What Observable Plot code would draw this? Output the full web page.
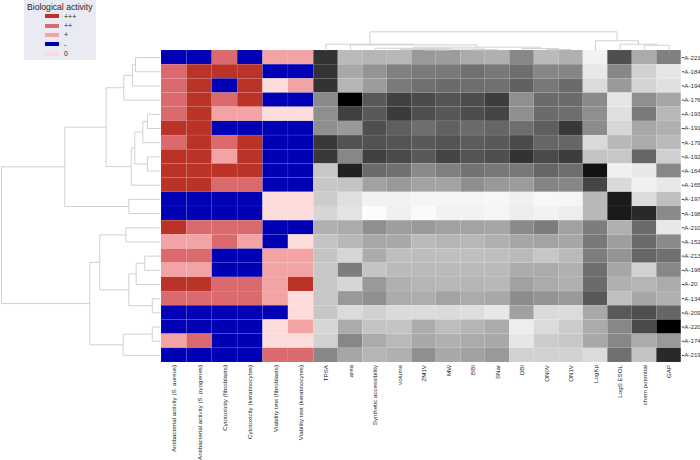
<!DOCTYPE html>
<html><head><meta charset="utf-8">
<script src="https://cdn.jsdelivr.net/npm/d3@7"></script>
<script src="https://cdn.jsdelivr.net/npm/@observablehq/plot@0.6"></script>
<style>
html,body{margin:0;padding:0;background:#fff;overflow:hidden;}
#wrap{position:relative;width:700px;height:460px;font-family:"Liberation Sans",Arial,sans-serif;}
#wrap svg{position:absolute;left:0;top:0;}
#legend{position:absolute;left:24px;top:0;width:72px;height:60px;background:#eaeaf2;color:#262626;}
#legend .title{position:absolute;left:3px;top:2px;font-size:8.6px;white-space:nowrap;}
#legend .sw{position:absolute;left:21px;width:14px;height:4px;}
#legend .lb{position:absolute;left:40px;font-size:7px;line-height:7px;}
</style></head><body><div id="wrap"><div id="legend"></div></div>
<script>
const rows = ["A-221","A-184","A-194","A-176","A-193","A-191","A-179","A-192","A-164","A-165","A-197","A-198","A-210","A-152","A-213","A-196","A-20","A-134","A-209","A-220","A-174","A-219"];
const bioCols = ["Antibacterial activity (S. aureus)","Antibacterial activity (S. pyogenes)","Cytotoxicity (fibroblasts)","Cytotoxicity (keratinocytes)","Viability test (fibroblasts)","Viability test (keratinocytes)"];
const descCols = ["TPSA","area","Synthetic accessibility","volume","ZM1V","MW","BBI","SNar","DBI","ON0V","ON1V","LogKp","LogS ESOL","chem potential","GAP"];
const levels = ["+++","++","+","-","0"];
const levelColors = ["#bb3228","#da6a6e","#f3a3a3","#0000b4","#fddcdc"];

// biological activity per row (same order as columns in bioCols)
const bio = [
  ["-","-","++","-","+","+"],
  ["++","+++","+++","+++","-","-"],
  ["++","+++","-","+++","0","+"],
  ["++","+++","++","+++","-","-"],
  ["++","+++","+","+","0","0"],
  ["+++","+++","-","-","-","-"],
  ["++","+++","++","+++","-","-"],
  ["+++","+++","+","+++","-","-"],
  ["+++","+++","+++","+++","-","-"],
  ["+++","+++","++","++","-","-"],
  ["-","-","-","-","0","0"],
  ["-","-","-","-","0","0"],
  ["+++","++","++","++","-","-"],
  ["+","+","++","+","-","0"],
  ["++","++","-","-","+","+"],
  ["+","+","-","-","+","+"],
  ["+++","+++","++","++","+","+++"],
  ["++","++","++","++","+","0"],
  ["-","-","-","-","-","0"],
  ["-","-","-","-","0","+"],
  ["+","++","-","-","0","0"],
  ["-","-","-","-","++","++"]
];

// scaled descriptor values (0 = lowest, 100 = highest), per row
const desc = [
  [80,27,29,28,40,39,33,31,47,27,31,5,69,33,50],
  [80,34,42,50,52,53,56,53,57,47,48,9,47,18,10],
  [80,29,39,52,56,58,57,56,62,53,58,14,40,17,12],
  [46,100,65,75,71,67,70,76,44,58,58,46,10,44,35],
  [44,75,65,77,69,66,70,73,44,58,57,44,12,52,28],
  [44,40,69,63,57,62,58,60,57,63,78,45,16,34,31],
  [78,68,68,67,65,67,64,65,71,60,60,15,28,33,27],
  [78,47,75,71,65,73,67,69,80,71,76,23,22,60,19],
  [22,87,58,56,46,50,55,53,53,60,57,93,6,9,47],
  [22,23,37,40,36,36,44,40,39,48,47,73,15,6,9],
  [20,12,5,5,4,4,4,3,6,3,4,28,90,14,25],
  [16,11,1,6,2,5,5,4,7,5,7,28,90,84,46],
  [31,33,44,38,40,37,36,35,46,51,37,51,31,58,9],
  [23,28,34,34,27,29,28,31,35,36,35,53,38,58,46],
  [23,16,33,25,26,25,25,25,27,22,27,51,42,60,56],
  [22,51,23,27,27,27,27,27,33,33,31,57,35,18,47],
  [22,16,40,31,29,28,29,28,37,33,31,58,31,29,33],
  [22,40,44,33,32,36,33,34,45,42,40,65,25,35,31],
  [22,14,18,14,14,14,13,9,37,14,14,34,65,69,60],
  [16,33,23,23,33,26,29,33,7,14,20,33,47,71,100],
  [18,47,33,27,34,31,33,34,10,20,22,34,47,33,40],
  [47,35,29,31,44,34,37,40,18,18,18,14,56,23,84]
];

// row linkage: [child A, child B, distance]; leaves 0..21 in displayed order, merges numbered from 22
const rowLinkage = [
  [1,2,0.052],[0,22,0.235],[3,4,0.052],[6,7,0.099],[5,25,0.153],[24,26,0.199],
  [8,9,0.218],[27,28,0.382],[23,29,0.445],[10,11,0.199],[13,14,0.082],[16,17,0.082],
  [15,33,0.111],[32,34,0.162],[12,35,0.184],[20,21,0.157],[19,37,0.176],[18,38,0.231],
  [36,39,0.342],[31,40,0.602],[30,41,1.0]
];
// column linkage over descCols; leaves 0..14, merges numbered from 15
const colLinkage = [
  [9,10,0.05],[8,15,0.1],[4,5,0.03],[3,17,0.06],[6,7,0.04],[18,19,0.08],
  [2,20,0.12],[21,16,0.18],[1,22,0.3],[0,23,0.337],[13,14,0.28],[12,25,0.337],
  [11,26,0.52],[24,27,1.0]
];

function dendroSegments(linkage, n) {
  const pos = [], ht = [];
  for (let i = 0; i < n; i++) { pos[i] = i + 0.5; ht[i] = 0; }
  const segs = [];
  linkage.forEach(([a, b, h], k) => {
    const id = n + k;
    pos[id] = (pos[a] + pos[b]) / 2; ht[id] = h;
    segs.push({p1: pos[a], h1: ht[a], p2: pos[a], h2: h});
    segs.push({p1: pos[a], h1: h, p2: pos[b], h2: h});
    segs.push({p1: pos[b], h1: h, p2: pos[b], h2: ht[b]});
  });
  return segs;
}

const W = 700, H = 460;
const top0 = 50, bottom0 = 362;
const wrap = document.getElementById("wrap");
const font = {fontFamily: '"Liberation Sans", Arial, sans-serif', background: "transparent", color: "#262626", overflow: "visible"};

const bioData = rows.flatMap((r, i) => bioCols.map((c, j) => ({row: r, col: c, level: bio[i][j]})));
const descData = rows.flatMap((r, i) => descCols.map((c, j) => ({row: r, col: c, value: desc[i][j]})));

wrap.appendChild(Plot.plot({
  width: W, height: H,
  marginLeft: 161, marginRight: W - 313.3, marginTop: top0, marginBottom: H - bottom0,
  style: {...font, fontSize: "6.2px"},
  x: {domain: bioCols, padding: 0, round: false, axis: "bottom", tickRotate: -90, tickSize: 0, tickPadding: 2.5, label: null},
  y: {domain: rows, padding: 0, round: false, axis: null},
  color: {domain: levels, range: levelColors},
  marks: [Plot.cell(bioData, {x: "col", y: "row", fill: "level", stroke: "#ffffff", strokeOpacity: 0.12, strokeWidth: 0.5})]
}));

wrap.appendChild(Plot.plot({
  width: W, height: H,
  marginLeft: 313.3, marginRight: W - 680.8, marginTop: top0, marginBottom: H - bottom0,
  style: {...font, fontSize: "6.2px"},
  x: {domain: descCols, padding: 0, round: false, axis: "bottom", tickRotate: -90, tickSize: 0, tickPadding: 2.5, label: null},
  y: {domain: rows, padding: 0, round: false, axis: null},
  color: {type: "linear", domain: [0, 100], range: ["#ffffff", "#000000"]},
  marks: [
    Plot.cell(descData, {x: "col", y: "row", fill: "value", stroke: "#ffffff", strokeOpacity: 0.1, strokeWidth: 0.5}),
    Plot.axisY({anchor: "right", label: null, tickSize: 2.5, tickPadding: 0.5, fontSize: 6.2, stroke: "#444", fill: "#333"})
  ]
}));

// left (row) dendrogram
wrap.appendChild(Plot.plot({
  width: W, height: H,
  marginLeft: 1, marginRight: W - 160, marginTop: top0, marginBottom: H - bottom0,
  style: font,
  x: {domain: [1, 0], axis: null},
  y: {domain: [0, rows.length], axis: null},
  marks: [Plot.link(dendroSegments(rowLinkage, rows.length), {x1: "h1", y1: "p1", x2: "h2", y2: "p2", stroke: "#d0d0d0", strokeWidth: 1})]
}));

// top (column) dendrogram
wrap.appendChild(Plot.plot({
  width: W, height: H,
  marginLeft: 313.3, marginRight: W - 680.8, marginTop: 31.3, marginBottom: H - top0,
  style: font,
  x: {domain: [0, descCols.length], axis: null},
  y: {domain: [0, 1], axis: null},
  marks: [Plot.link(dendroSegments(colLinkage, descCols.length), {x1: "p1", y1: "h1", x2: "p2", y2: "h2", stroke: "#d0d0d0", strokeWidth: 1})]
}));

// legend
const lg = document.getElementById("legend");
const t = document.createElement("div"); t.className = "title"; t.textContent = "Biological activity"; lg.appendChild(t);
levels.forEach((lv, i) => {
  const cy = 16.3 + i * 9.3;
  const s = document.createElement("div"); s.className = "sw"; s.style.top = (cy - 2) + "px"; s.style.background = levelColors[i]; lg.appendChild(s);
  const l = document.createElement("div"); l.className = "lb"; l.style.top = (cy - 3.5) + "px"; l.textContent = lv; lg.appendChild(l);
});
</script>
</body></html>
